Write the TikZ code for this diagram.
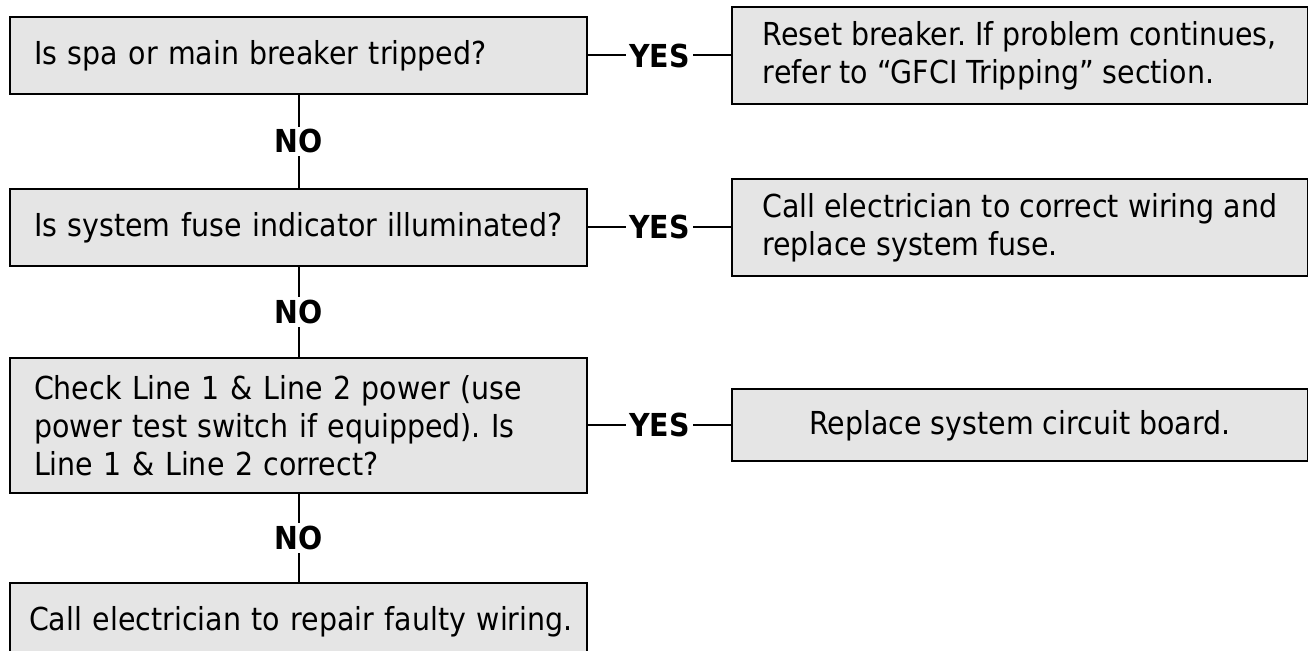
\documentclass[tikz,border=0pt]{standalone}
\usepackage{fontspec}
\setmainfont{DejaVu Sans Condensed}
\usepackage{tikz}
\usetikzlibrary{positioning}
\frenchspacing

\begin{document}
\begin{tikzpicture}[
    x=0.02cm, y=-0.02cm,
    every node/.style={font=\fontsize{18pt}{21.6pt}\selectfont},
    qbox/.style={draw, line width=0.04cm, fill=gray!20, minimum width=11.54cm,
                 minimum height=1.54cm, inner xsep=0.48cm, text width=10.58cm, align=left},
    abox/.style={draw, line width=0.04cm, fill=gray!20, minimum width=11.52cm,
                 minimum height=1.94cm, align=left},
    lbl/.style={fill=white, inner xsep=0.07cm, inner ysep=0.06cm,
                font=\fontsize{18pt}{21.6pt}\selectfont\bfseries},
    link/.style={line width=0.04cm}
]
\useasboundingbox (0,0) rectangle (1308,651);
% questions, left column
\node[qbox] (q1) at (298.5,55.5) {Is spa or main breaker tripped?};
\node[qbox, below=1.86cm of q1] (q2) {Is system fuse indicator illuminated?};
\node[qbox, below=1.80cm of q2, minimum height=2.7cm] (q3)
    {Check Line 1 \& Line 2 power (use\\power test switch if equipped). Is\\Line 1 \& Line 2 correct?};
\node[qbox, below=1.76cm of q3, inner xsep=0.38cm, text width=10.78cm] (q4)
    {\mbox{Call electrician to repair faulty wiring.}};
% answers, right column
\node[abox, right=2.86cm of q1] (r1)
    {Reset breaker. If problem continues,\\refer to ``GFCI Tripping'' section.};
\node[abox, right=2.86cm of q2] (r2)
    {Call electrician to correct wiring and\\replace system fuse.};
\node[abox, right=2.86cm of q3, minimum height=1.44cm] (r3) {Replace system circuit board.};
% links
\draw[link] (q1) -- node[lbl]{YES} (r1);
\draw[link] (q2) -- node[lbl]{YES} (r2);
\draw[link] (q3) -- node[lbl]{YES} (r3);
\draw[link] (q1) -- node[lbl]{NO} (q2);
\draw[link] (q2) -- node[lbl]{NO} (q3);
\draw[link] (q3) -- node[lbl]{NO} (q4);
\end{tikzpicture}
\end{document}
